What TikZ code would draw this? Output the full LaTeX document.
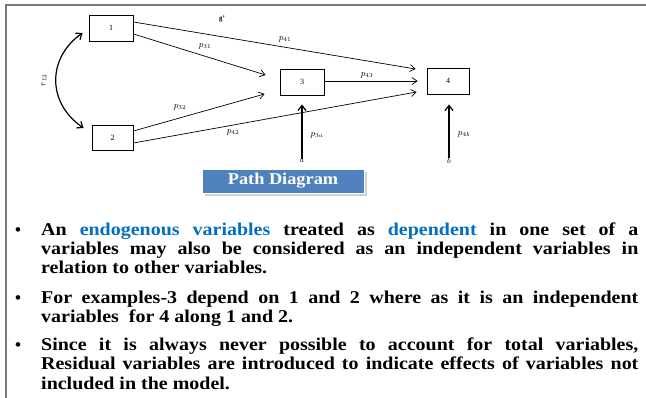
\documentclass[tikz,border=0pt]{standalone}
\usepackage{graphicx}
\usepackage{fontspec}
\setmainfont{Liberation Serif}
\usetikzlibrary{arrows.meta,calc}
\definecolor{frame}{RGB}{120,120,120}
\definecolor{kw}{RGB}{0,112,192}
\definecolor{pd}{RGB}{79,129,189}
\tikzset{
 box/.style={draw=black, line width=0.9pt, minimum width=44pt, minimum height=26pt, inner sep=0pt, font=\fontsize{8}{9}\selectfont},
 arr/.style={line width=0.7pt, -{Straight Barb[length=5pt,width=7pt,line width=0.7pt]}},
 varr/.style={line width=1.3pt, -{Straight Barb[length=5pt,width=8pt]}},
 lbl/.style={font=\fontsize{9}{10}\selectfont, inner sep=0pt},
 ln/.style={anchor=base west, inner sep=0pt, font=\fontsize{18}{19}\selectfont\bfseries},
 bul/.style={anchor=base, inner sep=0pt, font=\fontsize{17}{17}\selectfont\bfseries},
}
\newcommand{\jl}[1]{\scalebox{1.11}[1]{\makebox[538pt][s]{#1}}}
\newcommand{\nl}[1]{\scalebox{1.11}[1]{#1}}
\begin{document}
\begin{tikzpicture}[x=1pt,y=-1pt]
\useasboundingbox (0,0) rectangle (646,398);
\draw[frame, line width=1.5pt] (6,398) -- (6,5) -- (646,5);
% boxes
\node[box] (n1) at (111,28) {1};
\node[box, minimum width=41pt, minimum height=25pt] (n2) at (112.5,137.5) {2};
\node[box] (n3) at (302,82) {3};
\node[box, minimum width=42pt] (n4) at (448,81) {4};
% paths
\draw[arr] ([yshift=6pt]n1.east) -- ([xshift=-11pt,yshift=12pt]n4.west);
\draw[arr] ([yshift=-6pt]n1.east) -- ([xshift=-14pt,yshift=7pt]n3.west);
\draw[arr] ([yshift=6.5pt]n2.east) -- ([xshift=-15pt,yshift=-12pt]n3.west);
\draw[arr] ([yshift=-5.5pt]n2.east) -- ([xshift=-10pt,yshift=-11pt]n4.west);
\draw[arr] ([yshift=1pt]n3.east) -- ([xshift=-9pt]n4.west);
% residuals
\node[lbl, font=\fontsize{8}{9}\selectfont] (a) at (302,161) {$a$};
\node[lbl, font=\fontsize{8}{9}\selectfont] (b) at (449,161) {$b$};
\draw[varr] (a.north) -- ([yshift=-9pt]n3.south);
\draw[varr] (b.north) -- ([yshift=-10pt,xshift=1pt]n4.south);
% correlation
\draw[line width=1.2pt, {Straight Barb[length=5pt,width=8pt]}-{Straight Barb[length=5pt,width=8pt]}] ([xshift=-6pt,yshift=-5pt]n1.west) .. controls (47,58) and (47,103) .. ([xshift=-8pt,yshift=9.5pt]n2.west);
\node[lbl, rotate=90] (r12) at (44,80) {$r_{12}$};
% labels
\node[lbl] (p41) at (285,39) {$p_{41}$};
\node[lbl] (p31) at (205,46) {$p_{31}$};
\node[lbl] (p32) at (180,107) {$p_{32}$};
\node[lbl] (p42) at (233,132) {$p_{42}$};
\node[lbl] (p43) at (367,75) {$p_{43}$};
\node[lbl] (p3a) at (317,135) {$p_{3a}$};
\node[lbl] (p4b) at (464,134) {$p_{4b}$};
\node[lbl, font=\fontsize{7}{7}\selectfont\bfseries] (g) at (222,19) {g'};
% title box
\fill[gray!35] (205,172) rectangle (367,196);
\node[draw=white, line width=0.8pt, fill=pd, minimum width=162pt, minimum height=24pt, inner sep=0pt, text=white, font=\fontsize{16.5}{16.5}\selectfont\bfseries] (pdg) at (283,181) {\nl{Path Diagram}};
% bullets
\node[bul] (b1) at (18,236) {•};
\node[bul] (b2) at (18,304) {•};
\node[bul] (b3) at (18,351) {•};
\node[ln] (l1) at (41,236) {\jl{An \textcolor{kw}{endogenous variables} treated as \textcolor{kw}{dependent} in one set of a}};
\node[ln] (l2) at (41,255) {\jl{variables may also be considered as an independent variables in}};
\node[ln] (l3) at (41,274) {\nl{relation to other variables.}};
\node[ln] (l4) at (41,304) {\jl{For examples-3 depend on 1 and 2 where as it is an independent}};
\node[ln] (l5) at (41,323) {\nl{variables~ for 4 along 1 and 2.}};
\node[ln] (l6) at (41,351) {\jl{Since it is always never possible to account for total variables,}};
\node[ln] (l7) at (41,370) {\jl{Residual variables are introduced to indicate effects of variables not}};
\node[ln] (l8) at (41,389) {\nl{included in the model.}};
\end{tikzpicture}
\end{document}
